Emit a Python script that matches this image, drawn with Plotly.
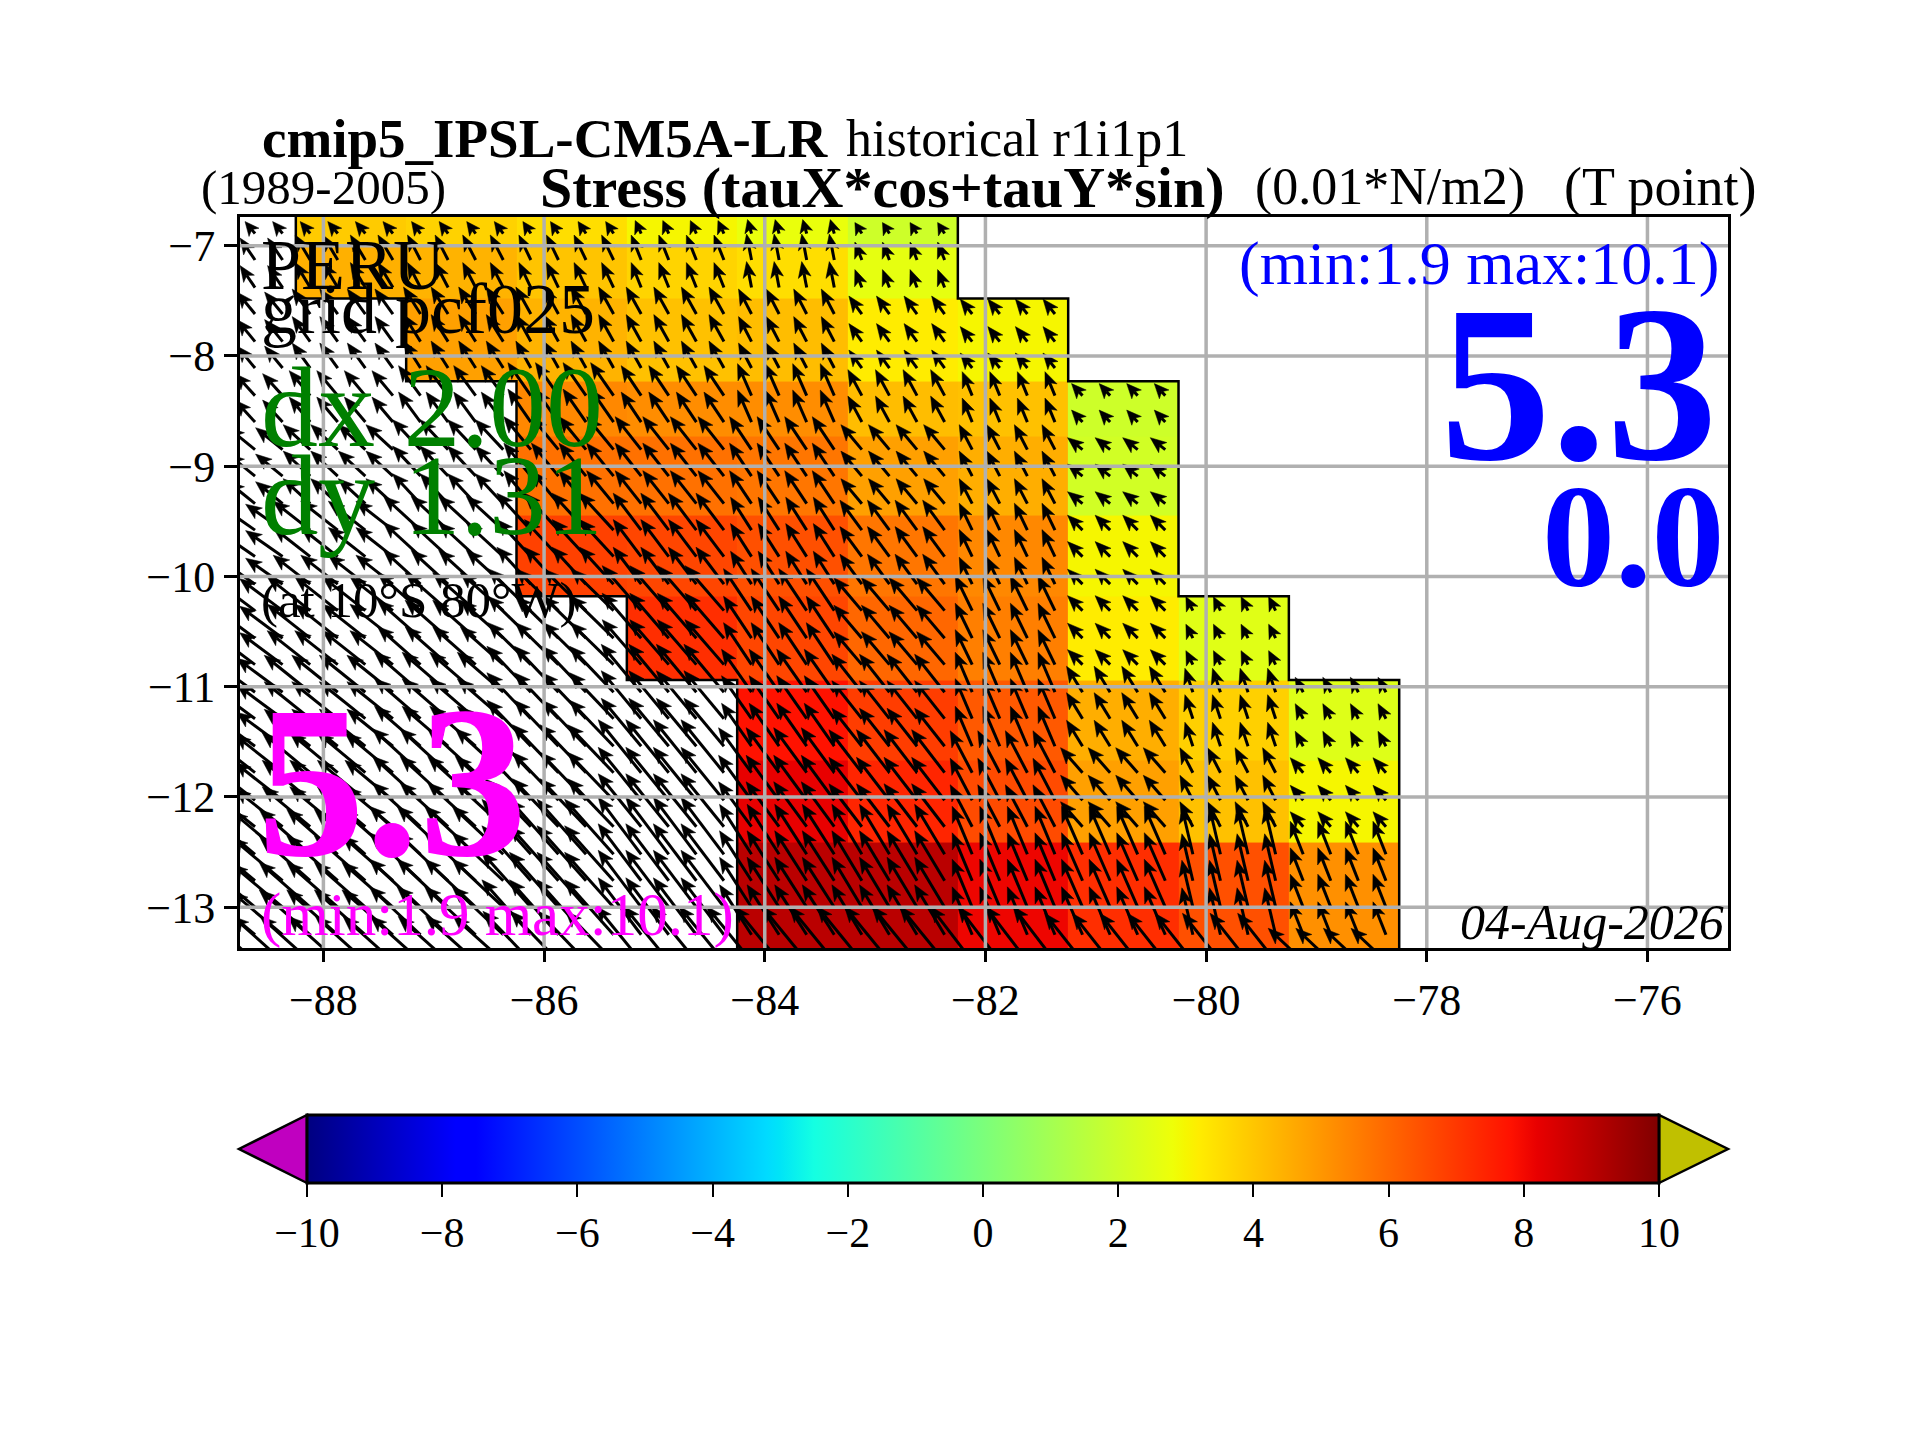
import numpy as np
import plotly.graph_objects as go

# cell edges
lon_edges = [-88.25, -87.25, -86.25, -85.25, -84.25, -83.25, -82.25, -81.25, -80.25, -79.25, -78.25]
lat_edges = [-6.5, -7.0, -7.48, -8.23, -8.73, -9.45, -10.18, -10.94, -11.67, -12.41, -13.6]

# stress, one row per latitude band (north to south), columns A..J
stress = [
    [3.9, 3.75, 3.5, 3.0, 2.7, 2.0, None, None, None, None],
    [4.47, 4.4, 4.05, 3.7, 3.5, 2.6, None, None, None, None],
    [None, 4.8, 4.4, 4.1, 4.2, 3.2, 3.0, None, None, None],
    [None, None, 5.3, 5.2, 5.2, 4.2, 4.1, 2.0, None, None],
    [None, None, 5.8, 5.8, 5.7, 4.8, 4.5, 2.1, None, None],
    [None, None, 6.8, 6.7, 6.5, 5.7, 5.3, 3.0, None, None],
    [None, None, None, 7.2, 6.7, 6.0, 5.5, 3.2, 2.45, None],
    [None, None, None, None, 7.8, 6.9, 6.3, 4.5, 3.8, 2.4],
    [None, None, None, None, 8.2, 7.4, 6.6, 4.8, 4.1, 3.0],
    [None, None, None, None, 9.0, 9.0, 8.1, 7.2, 6.5, 5.15],
]

# coastline around the ocean cells
coast_west_lon = [-88.25, -88.25, -87.25, -87.25, -86.25, -86.25, -85.25, -85.25, -84.25, -84.25]
coast_west_lat = [-6.74, -7.48, -7.48, -8.23, -8.23, -10.18, -10.18, -10.94, -10.94, -13.37]
coast_east_lon = [-82.25, -82.25, -81.25, -81.25, -80.25, -80.25, -79.25, -79.25, -78.25, -78.25]
coast_east_lat = [-6.74, -7.48, -7.48, -8.23, -8.23, -10.18, -10.18, -10.94, -10.94, -13.37]

# quiver points, grouped in the blocks the vectors are constant on
quiver_lons = [
    [-88.62, -88.37],
    [-88.12, -87.87, -87.62, -87.37],
    [-87.12, -86.87, -86.62, -86.37],
    [-86.12, -85.87, -85.62, -85.37],
    [-85.12, -84.87, -84.62, -84.37],
    [-84.12, -83.87, -83.62, -83.37],
    [-83.12, -82.87, -82.62, -82.37],
    [-82.12, -81.87, -81.62, -81.37],
    [-81.12, -80.87, -80.62, -80.37],
    [-80.12, -79.87, -79.62, -79.37],
    [-79.12, -78.87, -78.62, -78.37],
]
quiver_lats = [
    [-6.89],
    [-7.13, -7.38],
    [-7.62, -7.87, -8.11],
    [-8.36, -8.6],
    [-8.85, -9.09, -9.34],
    [-9.58, -9.82, -10.07],
    [-10.31, -10.56, -10.8],
    [-11.05, -11.29, -11.54],
    [-11.78, -12.03, -12.27],
    [-12.52, -12.76, -13.0, -13.25],
    [-13.49],
]
tau_x = [
    [-2.0, -2.0, -1.8, -1.6, -1.2, -0.8, -1.4],
    [-3.0, -3.0, -2.6, -2.4, -2.0, -1.0, -1.4],
    [-3.6, -3.6, -3.4, -3.0, -3.0, -2.6, -2.6, -2.4],
    [-4.0, -4.2, -4.4, -4.6, -4.0, -2.8, -2.8, -2.0, -2.2],
    [-5.4, -5.4, -5.6, -5.4, -5.2, -4.4, -4.2, -2.6, -3.0],
    [-7.4, -7.4, -7.4, -6.8, -5.6, -4.2, -4.4, -2.6, -3.0],
    [-8.6, -8.6, -8.6, -8.6, -7.8, -5.6, -5.6, -3.4, -3.0, -1.4],
    [-9.2, -9.2, -9.2, -8.8, -8.0, -6.0, -6.0, -3.4, -3.2, -1.6, -1.6],
    [-9.6, -9.6, -9.6, -9.2, -8.6, -6.6, -6.6, -4.4, -4.4, -2.6, -2.6],
    [-10.2, -10.2, -10.2, -9.8, -8.6, -6.4, -6.0, -4.0, -4.2, -2.2, -2.6],
    [-10.0, -10.0, -10.0, -9.6, -9.0, -9.0, -9.0, -8.4, -7.6, -7.6, -7.0],
]
tau_y = [
    [2.4, 2.4, 2.4, 2.4, 2.6, 2.8, 2.2],
    [4.4, 5.0, 5.0, 5.0, 5.0, 5.2, 3.6],
    [4.4, 5.0, 5.4, 5.4, 5.4, 5.0, 3.6, 3.0],
    [4.4, 5.0, 6.0, 6.6, 6.0, 6.4, 5.2, 4.8, 2.4],
    [4.4, 5.0, 6.0, 6.6, 6.6, 6.6, 5.0, 5.0, 2.4],
    [5.2, 5.8, 6.8, 7.4, 7.4, 6.6, 6.0, 5.4, 3.0],
    [6.4, 6.8, 7.6, 8.4, 9.0, 8.4, 6.6, 7.0, 3.0, 2.8],
    [6.8, 7.4, 8.0, 9.2, 9.6, 8.6, 7.6, 8.0, 5.2, 4.8, 3.0],
    [7.6, 8.0, 8.8, 9.6, 10.6, 9.0, 8.6, 8.4, 5.0, 5.0, 3.0],
    [8.6, 9.0, 9.6, 11.0, 11.4, 10.0, 10.0, 9.6, 9.6, 9.4, 6.6],
    [9.0, 9.0, 9.0, 10.0, 11.0, 11.0, 11.0, 11.0, 9.6, 9.6, 6.6],
]

x_ticks = [-88, -86, -84, -82, -80, -78, -76]
y_ticks = [-13, -12, -11, -10, -9, -8, -7]
cbar_ticks = [-10, -8, -6, -4, -2, 0, 2, 4, 6, 8, 10]

# matplotlib jet
jet = [
    [0.0, "rgb(0,0,128)"], [0.11, "rgb(0,0,255)"], [0.125, "rgb(0,0,255)"], [0.34, "rgb(0,219,255)"],
    [0.35, "rgb(0,229,247)"], [0.375, "rgb(20,255,226)"], [0.64, "rgb(238,255,8)"], [0.65, "rgb(246,246,0)"],
    [0.66, "rgb(255,236,0)"], [0.89, "rgb(255,18,0)"], [0.91, "rgb(232,0,0)"], [1.0, "rgb(128,0,0)"],
]

# the page body has an 8 px margin, so the map box is shifted back by that much
page_margin = 8
left, right, top, bottom = 240 - page_margin, 1728 - page_margin, 217 - page_margin, 948 - page_margin
lon_range = [-88.756, -75.27]
lat_range = [-13.37, -6.74]
px_per_deg = (right - left) / (lon_range[1] - lon_range[0])
px_per_unit = 5.0
font = "Liberation Serif"


def fx(px):
    return (px - page_margin - left) / (right - left)


def fy(py):
    return (bottom - (py - page_margin)) / (bottom - top)


# shafts and heads of the quiver
shaft_x, shaft_y, head_x, head_y = [], [], [], []
for b, lats in enumerate(quiver_lats):
    for c, u in enumerate(tau_x[b]):
        v = tau_y[b][c]
        for lon in quiver_lons[c]:
            for lat in lats:
                dx, dy = u * px_per_unit, v * px_per_unit
                length = np.hypot(dx, dy)
                ex, ey = dx / length, dy / length
                hl = min(16.0, 0.9 * length)
                hw = 6.5
                tipx, tipy = lon + dx / px_per_deg, lat + dy / px_per_deg
                backx, backy = tipx - ex * hl / px_per_deg, tipy - ey * hl / px_per_deg
                notchx, notchy = tipx - ex * hl * 0.75 / px_per_deg, tipy - ey * hl * 0.75 / px_per_deg
                nx, ny = -ey * hw / px_per_deg, ex * hw / px_per_deg
                shaft_x += [lon, notchx, None]
                shaft_y += [lat, notchy, None]
                head_x += [tipx, backx + nx, notchx, backx - nx, tipx, None]
                head_y += [tipy, backy + ny, notchy, backy - ny, tipy, None]

fig = go.Figure()
fig.add_trace(go.Heatmap(
    x=lon_edges, y=lat_edges[::-1], z=stress[::-1], zmin=-10, zmax=10, colorscale=jet, hoverongaps=False,
    colorbar=dict(
        orientation="h", x=fx(983), xanchor="center", y=fy(1115), yanchor="top",
        lenmode="pixels", len=1352, thickness=68, xpad=0, ypad=0,
        outlinecolor="black", outlinewidth=3,
        tickmode="array", tickvals=cbar_ticks, ticks="outside", ticklen=13, tickwidth=2, tickcolor="black",
        tickfont=dict(family=font, size=42, color="black"),
    ),
))
fig.add_trace(go.Scatter(x=coast_west_lon, y=coast_west_lat, mode="lines", line=dict(color="black", width=2.5)))
fig.add_trace(go.Scatter(x=coast_east_lon, y=coast_east_lat, mode="lines", line=dict(color="black", width=2.5)))
fig.add_trace(go.Scatter(x=shaft_x, y=shaft_y, mode="lines", line=dict(color="black", width=3)))
fig.add_trace(go.Scatter(x=head_x, y=head_y, mode="lines", fill="toself", fillcolor="black", line=dict(color="black", width=0.5)))

# grid sits on top of the arrows
for t in x_ticks:
    fig.add_vline(x=t, line_color="#b0b0b0", line_width=3.5, layer="above")
for t in y_ticks:
    fig.add_hline(y=t, line_color="#b0b0b0", line_width=3.5, layer="above")

# colorbar extension triangles
bar_y0, bar_y1 = fy(1183), fy(1115)
fig.add_shape(type="path", xref="paper", yref="paper", layer="above", fillcolor="#c000c0",
              line=dict(color="black", width=2.5),
              path=f"M {fx(307)} {bar_y0} L {fx(239)} {fy(1149)} L {fx(307)} {bar_y1} Z")
fig.add_shape(type="path", xref="paper", yref="paper", layer="above", fillcolor="#c0c000",
              line=dict(color="black", width=2.5),
              path=f"M {fx(1659)} {bar_y0} L {fx(1728)} {fy(1149)} L {fx(1659)} {bar_y1} Z")


def label(text, px, py, size, color="black", anchor="left"):
    fig.add_annotation(text=text, x=fx(px), y=fy(py), xref="paper", yref="paper", xanchor=anchor, yanchor="middle",
                       showarrow=False, font=dict(family=font, size=size, color=color))


label("<b>cmip5_IPSL-CM5A-LR</b>", 260, 138, 55)
label("historical r1i1p1", 844, 138, 52)
label("(1989-2005)", 199, 187, 49)
label("<b>Stress (tauX*cos+tauY*sin)</b>", 538, 187, 58)
label("(0.01*N/m2)", 1253, 187, 52)
label("(T point)", 1562, 187, 54)
label("PERU", 259, 265, 72)
label("grid pcf025", 259, 309, 72)
label("dx 2.00", 259, 407, 114, "green")
label("dy 1.31", 259, 495, 114, "green")
label("(at 10°S 80°W)", 259, 600, 51)
label("<b>5.3</b>", 255, 782, 216, "magenta")
label("(min:1.9 max:10.1)", 259, 915, 61, "magenta")
label("(min:1.9 max:10.1)", 1721, 264, 62, "blue", "right")
label("<b>5.3</b>", 1720, 384, 222, "blue", "right")
label("<b>0.0</b>", 1727, 537, 146, "blue", "right")
label("<i>04-Aug-2026</i>", 1726, 922, 50, "black", "right")

fig.update_layout(
    width=1920, height=1440, showlegend=False, plot_bgcolor="white", paper_bgcolor="white",
    margin=dict(l=left, r=1920 - right, t=top, b=1440 - bottom, autoexpand=False),
    font=dict(family=font, color="black"),
)
fig.update_xaxes(range=lon_range, tickvals=x_ticks, ticks="outside", ticklen=11, tickwidth=2.5, tickcolor="black",
                 showline=True, linecolor="black", linewidth=3, mirror=True, showgrid=False, zeroline=False,
                 tickfont=dict(family=font, size=44, color="black"))
fig.update_yaxes(range=lat_range, tickvals=y_ticks, ticks="outside", ticklen=13, tickwidth=2.5, tickcolor="black",
                 showline=True, linecolor="black", linewidth=3, mirror=True, showgrid=False, zeroline=False,
                 tickfont=dict(family=font, size=44, color="black"))

fig.write_html("out.html")
